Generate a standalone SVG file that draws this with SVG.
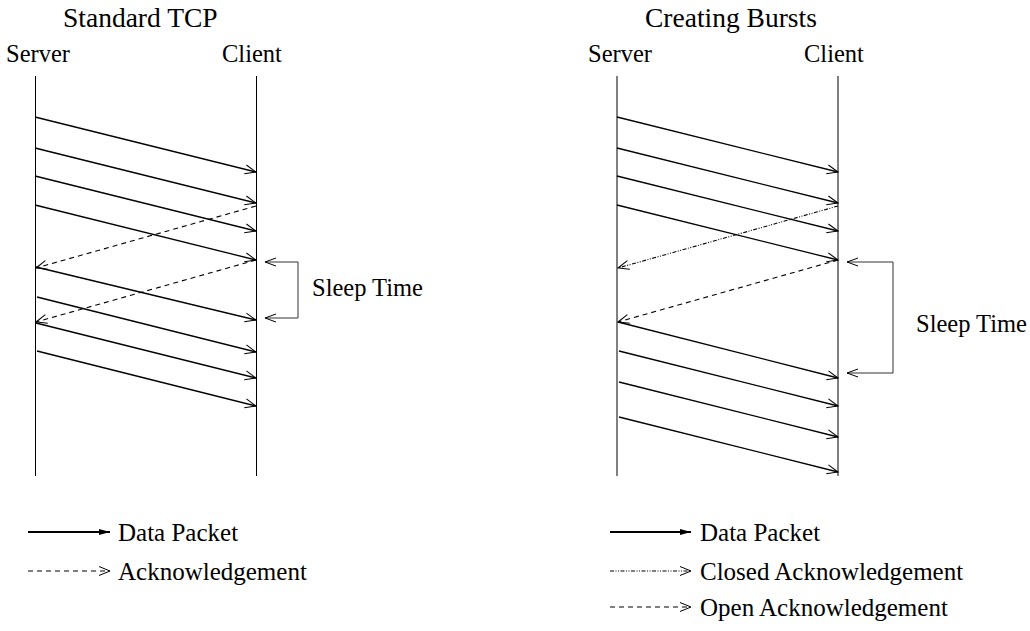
<svg xmlns="http://www.w3.org/2000/svg" width="1030" height="631" viewBox="0 0 1030 631">
<style>
text{font-family:"Liberation Serif","Times New Roman",serif;fill:#000}
.title{font-size:27.5px}
.lbl{font-size:24.5px}
.leg{font-size:25px}
.life{stroke:#000;stroke-width:1;fill:none}
.data{stroke:#000;stroke-width:1.3;fill:none;marker-end:url(#open)}
.ack{stroke:#000;stroke-width:1.1;fill:none;stroke-dasharray:5 4;marker-end:url(#open)}
.cack{stroke:#000;stroke-width:1.1;fill:none;stroke-dasharray:4 1.5 1 1.5 1 1.5;marker-end:url(#open)}
.brk{stroke:#333;stroke-width:1;fill:none}
</style>
<defs>
<marker id="open" markerUnits="userSpaceOnUse" markerWidth="12" markerHeight="10" refX="11" refY="4.5" orient="auto" overflow="visible">
<path d="M0,0 L11,4.5 L0,9" fill="none" stroke="#000" stroke-width="1" stroke-dasharray="none"/>
</marker>
<marker id="filled" markerUnits="userSpaceOnUse" markerWidth="12" markerHeight="8" refX="11" refY="3" orient="auto" overflow="visible">
<path d="M0,0 L11,3 L0,6 Z" fill="#000" stroke="none"/>
</marker>
<marker id="brkarrow" markerUnits="userSpaceOnUse" markerWidth="12" markerHeight="10" refX="11" refY="4" orient="auto" overflow="visible">
<path d="M0,0 L11,4 L0,8" fill="none" stroke="#000" stroke-width="1"/>
</marker>
</defs>

<g id="left-diagram">
<g id="title-standard"><text class="title" x="63" y="27">Standard TCP</text></g>
<g id="left-server"><text class="lbl" x="6" y="62">Server</text><line class="life" x1="35.5" y1="76" x2="35.5" y2="476"/></g>
<g id="left-client"><text class="lbl" x="222" y="62">Client</text><line class="life" x1="256.5" y1="76" x2="256.5" y2="476"/></g>
<g id="left-sleep"><path class="brk" d="M298,262 L298,318"/><line class="brk" x1="298" y1="262" x2="265" y2="262" marker-end="url(#brkarrow)"/><line class="brk" x1="298" y1="318" x2="265" y2="318" marker-end="url(#brkarrow)"/><text class="lbl" x="312" y="296">Sleep Time</text></g>
</g>

<g id="right-diagram">
<g id="title-bursts"><text class="title" x="645" y="27">Creating Bursts</text></g>
<g id="right-server"><text class="lbl" x="588" y="62">Server</text><line class="life" x1="617" y1="76" x2="617" y2="476"/></g>
<g id="right-client"><text class="lbl" x="804" y="62">Client</text><line class="life" x1="838" y1="76" x2="838" y2="476"/></g>
<g id="right-sleep"><path class="brk" d="M893,262 L893,373"/><line class="brk" x1="893" y1="262" x2="847" y2="262" marker-end="url(#brkarrow)"/><line class="brk" x1="893" y1="373" x2="847" y2="373" marker-end="url(#brkarrow)"/><text class="lbl" x="916" y="332">Sleep Time</text></g>
</g>

<g id="connectors">
<line class="data" x1="35" y1="117" x2="256" y2="172"/>
<line class="data" x1="35" y1="148" x2="256" y2="203"/>
<line class="data" x1="35" y1="176" x2="256" y2="231"/>
<line class="data" x1="35" y1="205" x2="256" y2="260"/>
<line class="ack" x1="256" y1="206" x2="36" y2="268"/>
<line class="data" x1="36" y1="267" x2="256" y2="320"/>
<line class="ack" x1="256" y1="260" x2="36" y2="322"/>
<line class="data" x1="37" y1="297" x2="256" y2="352"/>
<line class="data" x1="36" y1="323" x2="256" y2="378"/>
<line class="data" x1="37" y1="351" x2="256" y2="406"/>

<line class="data" x1="617" y1="117" x2="838" y2="172"/>
<line class="data" x1="617" y1="148" x2="838" y2="203"/>
<line class="data" x1="617" y1="176" x2="838" y2="231"/>
<line class="data" x1="617" y1="205" x2="838" y2="260"/>
<line class="cack" x1="838" y1="206" x2="618" y2="268"/>
<line class="ack" x1="838" y1="260" x2="618" y2="322"/>
<line class="data" x1="618" y1="322" x2="838" y2="378"/>
<line class="data" x1="619" y1="351" x2="838" y2="406"/>
<line class="data" x1="619" y1="382" x2="838" y2="437"/>
<line class="data" x1="619" y1="417" x2="838" y2="472"/>
</g>

<g id="legend-left">
<line x1="28" y1="532" x2="110" y2="532" stroke="#000" stroke-width="2" marker-end="url(#filled)"/>
<text class="leg" x="118" y="541">Data Packet</text>
<line class="ack" x1="28" y1="571" x2="110" y2="571"/>
<text class="leg" x="118" y="580">Acknowledgement</text>
</g>

<g id="legend-right">
<line x1="610" y1="532" x2="691" y2="532" stroke="#000" stroke-width="2" marker-end="url(#filled)"/>
<text class="leg" x="700" y="541">Data Packet</text>
<line class="cack" x1="610" y1="571" x2="691" y2="571"/>
<text class="leg" x="700" y="580">Closed Acknowledgement</text>
<line class="ack" x1="610" y1="607" x2="691" y2="607"/>
<text class="leg" x="700" y="616">Open Acknowledgement</text>
</g>
</svg>
